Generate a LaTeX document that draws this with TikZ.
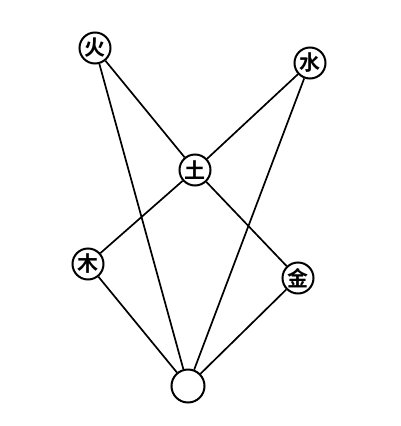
\documentclass[tikz,border=0pt]{standalone}
\usepackage{fontspec}
\newfontfamily\cjk{Noto Sans CJK SC Bold}[BoldFont={Noto Sans CJK SC Black}]
\begin{document}
\begin{tikzpicture}[x=1pt,y=-1pt,
  elem/.style={circle,draw,line width=2pt,minimum size=31pt,inner sep=0pt,font=\cjk\fontsize{21}{21}\selectfont},
  link/.style={line width=1.7pt}]
\useasboundingbox (0,0) rectangle (401,426);
\node[elem] (huo) at (95,48) {火};
\node[elem] (shui) at (310,63) {水};
\node[elem] (tu) at (195,170) {土};
\node[elem] (mu) at (88,264) {木};
\node[elem] (jin) at (298,278) {金};
\node[elem,minimum size=33pt] (b) at (188,386) {};
\draw[link] (huo) -- (tu);
\draw[link] (shui) -- (tu);
\draw[link] (tu) -- (mu);
\draw[link] (tu) -- (jin);
\draw[link] (huo) -- (b);
\draw[link] (shui) -- (b);
\draw[link] (mu) -- (b);
\draw[link] (jin) -- (b);
\end{tikzpicture}
\end{document}
